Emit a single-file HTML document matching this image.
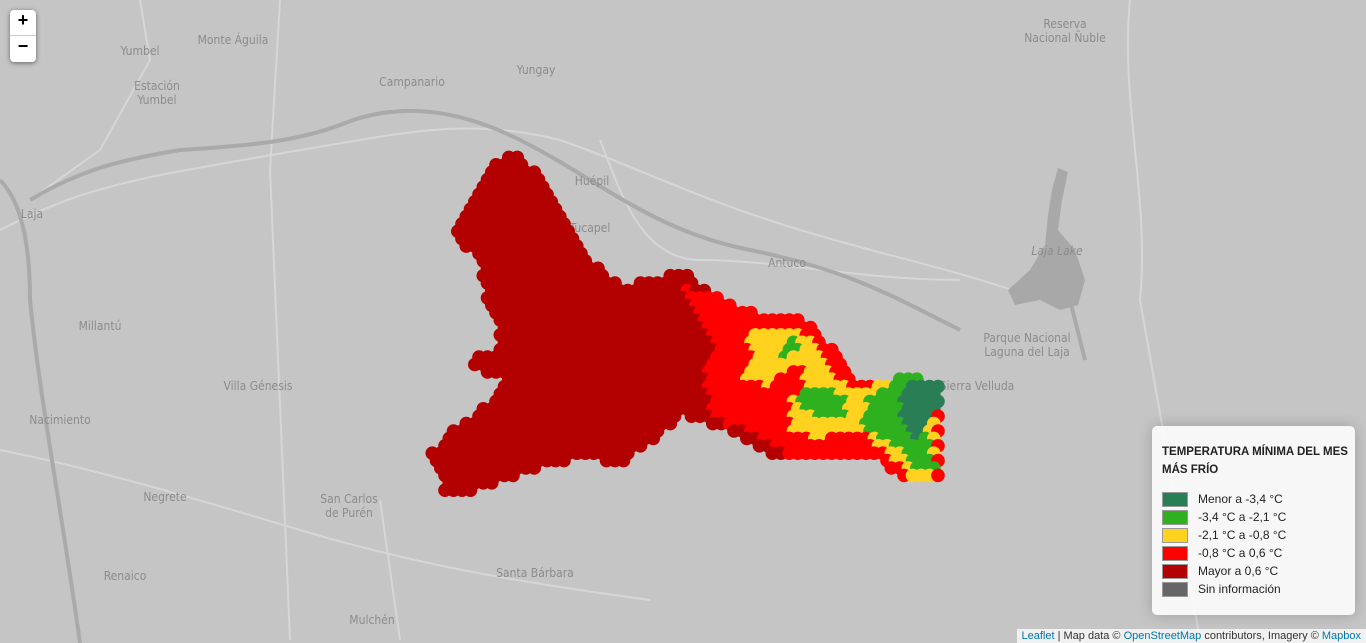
<!DOCTYPE html>
<html><head><meta charset="utf-8"><style>
html,body{margin:0;padding:0;width:1366px;height:643px;overflow:hidden;background:#c5c5c5;font-family:"Liberation Sans",sans-serif}
#map{position:absolute;left:0;top:0;width:1366px;height:643px}
.lbl{font-family:"DejaVu Sans Condensed","Liberation Sans",sans-serif;font-size:12px;fill:#8c8c8c;text-anchor:middle}
#zoom{position:absolute;left:10px;top:10px;width:26px;height:52px;background:#fff;border-radius:4px;box-shadow:0 1px 5px rgba(0,0,0,.5)}
#zoom div{height:26px;line-height:26px;text-align:center;font:bold 18px "Liberation Sans",sans-serif;color:#000}
#zoom div:first-child{border-bottom:1px solid #ccc;height:25px}
#legend{position:absolute;left:1152px;top:426px;width:203px;height:189px;background:rgba(255,255,255,.85);border-radius:5px;box-shadow:0 0 15px rgba(0,0,0,.2);font-size:12px;color:#222}
#legend .t{position:absolute;left:10px;top:17px;font-weight:bold;font-size:11.5px;line-height:18px;width:192px}
.row{position:absolute;left:10px;height:18px;line-height:16px}
.sw{display:inline-block;width:26px;height:15px;border:1px solid #999;vertical-align:middle;margin-right:10px;box-sizing:border-box}
#attr{position:absolute;right:0;bottom:0;background:rgba(255,255,255,.75);font-size:11px;padding:1px 5px;color:#333}
#attr a{color:#0078a8;text-decoration:none}
</style></head><body>
<svg id="map" width="1366" height="643">
<g stroke="#d6d6d6" stroke-width="2" fill="none">
<path d="M0,230 C60,200 90,190 160,175 C240,160 300,150 360,140 C420,130 480,120 560,140 C620,160 700,200 800,230 C900,260 960,270 1040,300"/>
<path d="M280,0 L270,170 L290,640"/>
<path d="M140,0 L150,60 L100,150 L30,200"/>
<path d="M600,140 C620,190 640,260 700,260 C780,260 860,280 960,280"/>
<path d="M0,450 C100,470 200,500 300,530 C400,560 500,580 650,600"/>
<path d="M380,500 L400,640"/>
<path d="M1130,0 C1120,100 1150,200 1140,300 L1200,640"/>
</g>
<g stroke="#aaa" stroke-width="4" fill="none">
<path d="M0,180 C20,200 30,240 30,300 C40,400 60,500 80,643"/>
<path d="M30,200 C80,170 120,160 180,150 C260,145 300,140 340,125 C400,100 460,110 520,140 C600,180 650,230 750,250 C850,270 900,300 960,330"/>
<path d="M1070,300 C1075,320 1080,340 1085,360"/>
</g>
<path fill="#a8a8a8" d="M1058,168 L1068,172 L1062,200 L1058,230 L1075,250 L1085,280 L1078,305 L1060,310 L1040,300 L1015,305 L1008,290 L1030,270 L1045,245 L1048,215 L1052,190 Z"/>
<g>
<text class="lbl" x="140" y="55">Yumbel</text>
<text class="lbl" x="233" y="44">Monte Águila</text>
<text class="lbl" x="157" y="90">Estación</text><text class="lbl" x="157" y="104">Yumbel</text>
<text class="lbl" x="412" y="86">Campanario</text>
<text class="lbl" x="536" y="74">Yungay</text>
<text class="lbl" x="1065" y="28">Reserva</text><text class="lbl" x="1065" y="42">Nacional Ñuble</text>
<text class="lbl" x="32" y="218">Laja</text>
<text class="lbl" x="592" y="185">Huépil</text>
<text class="lbl" x="590" y="232">Tucapel</text>
<text class="lbl" x="787" y="267">Antuco</text>
<text class="lbl" x="1057" y="255" font-style="italic" fill="#777">Laja Lake</text>
<text class="lbl" x="100" y="330">Millantú</text>
<text class="lbl" x="1027" y="342">Parque Nacional</text><text class="lbl" x="1027" y="356">Laguna del Laja</text>
<text class="lbl" x="258" y="390">Villa Génesis</text>
<text class="lbl" x="977" y="390" fill="#777">Sierra Velluda</text>
<text class="lbl" x="60" y="424">Nacimiento</text>
<text class="lbl" x="165" y="501">Negrete</text>
<text class="lbl" x="349" y="503">San Carlos</text><text class="lbl" x="349" y="517">de Purén</text>
<text class="lbl" x="535" y="577">Santa Bárbara</text>
<text class="lbl" x="125" y="580">Renaico</text>
<text class="lbl" x="372" y="624">Mulchén</text>
</g>
<g id="cells"></g>
</svg>
<div id="zoom">
<div>+</div>
<div>−</div>
</div>
<div id="legend">
<div class="t">TEMPERATURA MÍNIMA DEL MES MÁS FRÍO</div>
<div class="row" style="top:65px"><span class="sw" style="background:#2a7e55"></span>Menor a -3,4 °C</div>
<div class="row" style="top:83px"><span class="sw" style="background:#2fb11f"></span>-3,4 °C a -2,1 °C</div>
<div class="row" style="top:101px"><span class="sw" style="background:#ffd21f"></span>-2,1 °C a -0,8 °C</div>
<div class="row" style="top:119px"><span class="sw" style="background:#ff0000"></span>-0,8 °C a 0,6 °C</div>
<div class="row" style="top:137px"><span class="sw" style="background:#b30000"></span>Mayor a 0,6 °C</div>
<div class="row" style="top:155px"><span class="sw" style="background:#666"></span>Sin información</div>
</div>
<div id="attr"><a>Leaflet</a> | Map data © <a>OpenStreetMap</a> contributors, Imagery © <a>Mapbox</a></div>
<script>
const classNames = ["menor","frio","medio","templado","mayor"];
const classColors = ["#2a7e55","#2fb11f","#ffd21f","#ff0000","#b30000"];
const zoneDarkGreen = [[905,385],[925,380],[942,385],[938,405],[925,425],[918,440],[905,425],[898,400]];
const zoneGreen = [[880,395],[900,374],[920,378],[928,440],[936,470],[915,472],[905,455],[880,442],[860,425],[870,400]];
const zoneGreen2 = [[800,395],[830,390],[850,400],[845,420],[820,418],[805,412]];
const zoneGreen3 = [[785,345],[795,340],[800,355],[780,360]];
const zoneRedHole = [[770,390],[800,370],[805,385],[790,405],[790,425],[770,420]];
const zoneYellow = [[748,335],[790,328],[815,345],[825,362],[840,385],[860,392],[880,384],[905,378],[932,398],[938,440],[936,476],[905,476],[895,460],[875,448],[860,432],[840,432],[820,442],[792,432],[785,405],[802,386],[808,372],[790,370],[770,388],[745,382],[752,360]];
const zoneRed = [[680,288],[722,298],[760,316],[800,318],[818,330],[832,350],[850,378],[875,383],[900,378],[938,388],[942,440],[940,482],[905,482],[880,457],[830,456],[790,456],[762,440],[742,426],[712,422],[706,382],[716,340],[692,312]];
const zoneDarkRed = [[520,152],[530,165],[545,190],[557,210],[572,225],[582,250],[600,270],[625,285],[660,276],[690,274],[700,288],[722,298],[740,308],[760,314],[800,318],[812,326],[828,348],[848,378],[830,440],[800,460],[770,457],[748,442],[720,427],[700,420],[680,415],[652,440],[622,465],[590,458],[560,462],[530,470],[500,480],[470,492],[445,493],[440,472],[430,456],[450,430],[480,410],[500,395],[505,375],[475,370],[470,355],[495,350],[500,320],[485,300],[480,270],[470,250],[455,240],[460,215],[470,200],[485,170],[502,160]];
const zones = [[zoneDarkGreen,0],[zoneGreen,1],[zoneGreen2,1],[zoneGreen3,1],[zoneRedHole,3],[zoneYellow,2],[zoneRed,3],[zoneDarkRed,4]];
function inside(p,poly){let c=false;for(let i=0,j=poly.length-1;i<poly.length;j=i++){const [xi,yi]=poly[i],[xj,yj]=poly[j];if(((yi>p[1])!=(yj>p[1]))&&(p[0]<(xj-xi)*(p[1]-yi)/(yj-yi)+xi))c=!c;}return c;}
const g=document.getElementById('cells');
const sp=8.5, r=6.8;
for(let row=0;row*sp*0.87+150<498;row++){
  const y=150+row*sp*0.87;
  for(let x=428+(row%2?sp/2:0);x<946;x+=sp){
    let cls=-1;
    for(const [poly,k] of zones){if(inside([x,y],poly)){cls=k;break;}}
    if(cls<0)continue;
    const c=document.createElementNS('http://www.w3.org/2000/svg','circle');
    c.setAttribute('cx',x.toFixed(1));c.setAttribute('cy',y.toFixed(1));c.setAttribute('r',r);
    c.setAttribute('fill',classColors[cls]);
    
    
    g.appendChild(c);
  }
}
</script>
</body></html>
